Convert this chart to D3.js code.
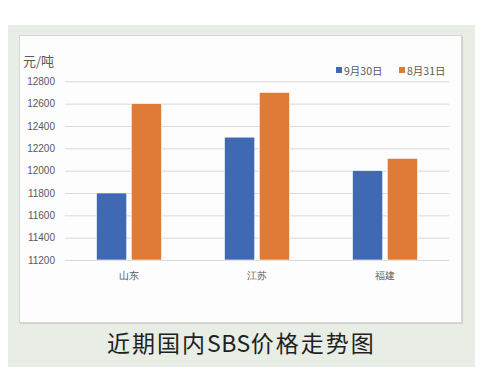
<!DOCTYPE html>
<html><head><meta charset="utf-8">
<script src="https://cdn.jsdelivr.net/npm/d3@7"></script>
<style>html,body{margin:0;padding:0;background:#fff;}</style>
</head><body>
<script>
const categories = ["山东", "江苏", "福建"];
const seriesNames = ["9月30日", "8月31日"];
const sep30 = [11800, 12300, 12000];
const aug31 = [12600, 12700, 12110];
const yTicks = [11200, 11400, 11600, 11800, 12000, 12200, 12400, 12600, 12800];
const colors = ["#4169B3", "#E07A37"];
const titleParts = [["近期国内", 2], ["SBS", 0.5], ["价格走势图", 2]];

const W = 483, H = 375;
const svg = d3.select("body").append("svg").attr("width", W).attr("height", H)
  .style("font-family", "'Noto Sans CJK SC', 'Noto Sans', sans-serif");

// outer background
svg.append("rect").attr("x", 8).attr("y", 25).attr("width", 467).attr("height", 342).attr("fill", "#e8ede6");
// panel shadow + panel
svg.append("rect").attr("x", 20).attr("y", 36).attr("width", 443).attr("height", 288).attr("fill", "#d0d0cc");
svg.append("rect").attr("x", 19.5).attr("y", 35.5).attr("width", 442).attr("height", 287).attr("fill", "#fdfdfd").attr("stroke", "#d6d6d6").attr("stroke-width", 1);

const x = d3.scaleBand().domain(categories).range([65, 449]);
const y = d3.scaleLinear().domain([11200, 12800]).range([260, 81.3]);

const data = categories.map((c, i) => ({cat: c, vals: [sep30[i], aug31[i]]}));
const x1 = d3.scaleBand().domain([0, 1]).range([0, 65]).paddingInner(0.13);

// gridlines
const yAxis = d3.axisLeft(y).tickValues(yTicks).tickSize(-(449 - 65)).tickPadding(10).tickFormat(d3.format("d"));
const ga = svg.append("g").attr("transform", "translate(65,0)").call(yAxis);
ga.select(".domain").remove();
ga.selectAll(".tick line").attr("stroke", "#d9d9d9").attr("stroke-width", 1);
ga.selectAll(".tick text").attr("fill", "#595959").style("font-size", "10px").style("font-family", "'Liberation Sans', Arial, sans-serif");

// bars
const groups = svg.append("g").selectAll("g").data(data).join("g")
  .attr("transform", d => `translate(${x(d.cat) + (x.bandwidth() - 65) / 2},0)`);
groups.selectAll("rect").data(d => d.vals.map((v, k) => ({v, k}))).join("rect")
  .attr("x", d => x1(d.k))
  .attr("width", x1.bandwidth())
  .attr("y", d => y(d.v))
  .attr("height", d => y(11200) - y(d.v))
  .attr("fill", d => colors[d.k])
  .attr("stroke", "#ffffff").attr("stroke-width", 0.6);

// x axis labels
const xAxis = d3.axisBottom(x).tickSize(0).tickPadding(12);
const gx = svg.append("g").attr("transform", "translate(0,260)").call(xAxis);
gx.select(".domain").remove();
gx.selectAll(".tick text").attr("fill", "#595959").style("font-size", "10px");

// unit label
svg.append("text").attr("x", 23).attr("y", 66).text("元/吨")
  .attr("fill", "#595959").style("font-size", "13px");

// legend
const legX = [336, 399];
seriesNames.forEach((n, i) => {
  svg.append("rect").attr("x", legX[i]).attr("y", 67).attr("width", 6).attr("height", 6).attr("fill", colors[i]);
  svg.append("text").attr("x", legX[i] + 8).attr("y", 74.5).text(n)
    .attr("fill", "#595959").style("font-size", "10.5px");
});

// title
const t = svg.append("text").attr("x", 107).attr("y", 352)
  .attr("fill", "#231f20").style("font-size", "23px");
titleParts.forEach(([s, ls]) => t.append("tspan").text(s).style("letter-spacing", ls + "px"));
</script>
</body></html>
